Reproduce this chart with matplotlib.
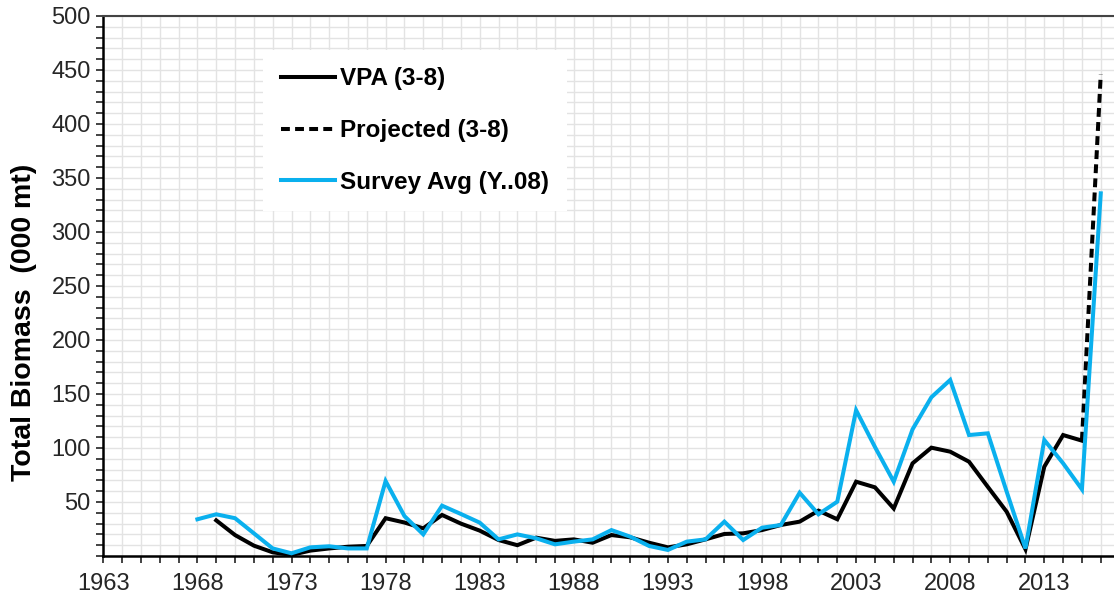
import matplotlib
matplotlib.use("Agg")
import matplotlib.pyplot as plt
from matplotlib.ticker import MultipleLocator, FixedLocator

plt.rcParams['font.family'] = ['Liberation Sans', 'DejaVu Sans']

# Data
vpa_years = list(range(1969, 2016))
vpa_values = [33, 19.4, 9.6, 3.4, 1, 5, 7, 8.6, 9.3, 35, 31, 25.6, 38, 30, 23.5,
              14.8, 10, 17, 14, 15.4, 12.3, 19.4, 17.3, 12.3, 8, 10.8, 15.4, 20.4,
              21, 24, 28.7, 31.8, 42, 34, 68.8, 63.6, 44, 85.8, 100.3, 96.6, 87.3,
              64, 41, 6.2, 82.7, 112, 106.8]
proj_years = [2015, 2016]
proj_values = [106.8, 446]
survey_years = list(range(1968, 2017))
survey_values = [34, 38.6, 35, 21, 7, 2.5, 8, 9, 7, 7, 69.4, 37, 20, 46.6, 38.9,
                 30.9, 15.4, 20, 16.4, 10.8, 13.3, 15.4, 24, 17.9, 9.3, 5.6, 13.3,
                 15.4, 31.8, 14.8, 26.2, 28.7, 58.6, 38.6, 50.3, 135, 101, 68.8,
                 117.3, 147, 163, 112, 113.6, 59.6, 7, 107.4, 85.8, 61.7, 335.8]
x_tick_labels = ['1963', '1968', '1973', '1978', '1983', '1988', '1993', '1998',
                 '2003', '2008', '2013']
y_tick_labels = ['50', '100', '150', '200', '250', '300', '350', '400', '450', '500']

fig = plt.figure(figsize=(11.14, 5.99), dpi=100)
ax = fig.add_axes([103.3 / 1114, 43 / 599, 1 - 103.3 / 1114, 540 / 599])

blue = '#0AB0EE'
ax.plot(vpa_years, vpa_values, color='black', lw=2.9, label='VPA (3-8)', zorder=3,
        solid_joinstyle='miter')
ax.plot(proj_years, proj_values, color='black', lw=2.9, ls=(0, (2.2, 1.3)),
        label='Projected (3-8)', zorder=3)
ax.plot(survey_years, survey_values, color=blue, lw=2.9, label='Survey Avg (Y..08)',
        zorder=4, solid_joinstyle='miter')

ax.set_xlim(1963, 1963 + (1114 - 103.3) / 18.82)
ax.set_ylim(0, 500)

ax.xaxis.set_major_locator(FixedLocator([int(s) for s in x_tick_labels]))
ax.set_xticklabels(x_tick_labels)
ax.xaxis.set_minor_locator(MultipleLocator(1))
ax.yaxis.set_major_locator(FixedLocator([int(s) for s in y_tick_labels]))
ax.set_yticklabels(y_tick_labels)
ax.yaxis.set_minor_locator(MultipleLocator(10))

ax.grid(which='both', color='#e3e3e3', lw=1.0, zorder=0)
ax.set_axisbelow(True)

ax.tick_params(axis='both', which='both', direction='out', length=5, width=1.2,
               color='#222222', labelsize=17, labelcolor='#262626')
ax.tick_params(axis='x', pad=7)
ax.tick_params(axis='y', pad=4)

for s in ['left', 'bottom']:
    ax.spines[s].set_color('black')
    ax.spines[s].set_linewidth(1.8)
ax.spines['top'].set_color('#444444')
ax.spines['top'].set_linewidth(1.5)
ax.spines['right'].set_visible(False)

ax.set_ylabel('Total Biomass  (000 mt)', fontsize=20.5, fontweight='bold', color='black')
ax.yaxis.set_label_coords((37 - 103.3) / 1010.7, 0.433)

leg = ax.legend(loc='upper left', bbox_to_anchor=((263 - 103.3) / 1010.7, (556 - 50) / 540),
                borderaxespad=0, frameon=True, fancybox=False, facecolor='white',
                edgecolor='white', framealpha=1, prop={'weight': 'bold', 'size': 17.5},
                handlelength=2.26, handletextpad=0.2, labelspacing=1.18, borderpad=0.72)
leg.get_frame().set_linewidth(0)

fig.savefig('out.png', dpi=100)
